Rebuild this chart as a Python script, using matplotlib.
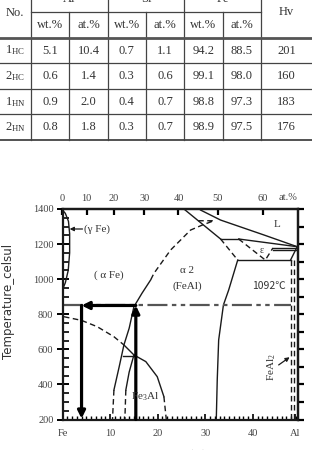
import matplotlib.pyplot as plt
import numpy as np

plt.rcParams['font.family'] = ['Liberation Serif', 'DejaVu Serif']
plt.rcParams['mathtext.default'] = 'regular'

# ---- table data ----
elements = ['Al', 'Si', 'Fe']
sub_heads = ['wt.%', 'at.%']
sample_no = ['1', '2', '1', '2']
sample_sub = ['HC', 'HC', 'HN', 'HN']
al_wt = ['5.1', '0.6', '0.9', '0.8']
al_at = ['10.4', '1.4', '2.0', '1.8']
si_wt = ['0.7', '0.3', '0.4', '0.3']
si_at = ['1.1', '0.6', '0.7', '0.7']
fe_wt = ['94.2', '99.1', '98.8', '98.9']
fe_at = ['88.5', '98.0', '97.3', '97.5']
hv = ['201', '160', '183', '176']

# ---- phase diagram data (x = wt.% Al, y = temperature C) ----
gamma_wt = [0.0, 0.6, 1.25, 1.5, 1.5, 1.2, 0.6, 0.0]
gamma_T = [1394, 1375, 1330, 1260, 1150, 1050, 980, 940]

liq_a_wt = [25.5, 33.2]
liq_a_T = [1400, 1229]
liq_b_wt = [29.0, 33.2, 42.3, 49.3]
liq_b_T = [1394, 1337, 1252, 1185]
perit_wt = [33.2, 37.0]
perit_T = [1229, 1229]
eps_top_wt = [37.0, 49.3]
eps_top_T = [1229, 1185]
eps_dash_wt = [37.0, 42.6, 44.2]
eps_dash_T = [1229, 1109, 1178]
eps_low_wt = [44.2, 49.3]
eps_low_T = [1178, 1178]
eps_low2_T = [1166, 1166]
a2_dash_wt = [33.2, 36.8]
a2_dash_T = [1229, 1109]
eut_wt = [36.8, 47.9]
eut_T = [1109, 1109]
right_wt = [47.9, 49.3]
right_T = [1109, 1185]
feal2_wt = [47.9, 48.7]
feal2_T = [1109, 200]
a2_right_wt = [36.8, 34.9, 33.8, 32.8, 32.5, 32.3]
a2_right_T = [1109, 938, 853, 653, 425, 200]

order_dash_wt = [28.5, 31.8, 29.5, 26.9, 22.7, 19.2, 18.5]
order_dash_T = [1333, 1333, 1310, 1280, 1166, 1033, 995]
order_wt = [18.5, 16.7, 15.0, 14.0, 12.9, 11.9, 10.8]
order_T = [995, 920, 843, 720, 625, 500, 368]
order_low_wt = [10.8, 10.5]
order_low_T = [368, 200]
fe3al_left_wt = [15.0, 14.0, 13.3]
fe3al_left_T = [568, 470, 368]
fe3al_left_low_wt = [13.3, 13.1]
fe3al_left_low_T = [368, 200]
tri_wt = [12.9, 15.0]
tri_T = [625, 568]
tri_h_wt = [12.8, 15.0]
tri_h_T = [562, 562]
dome_wt = [15.0, 17.5, 19.9, 21.3]
dome_T = [568, 530, 444, 330]
dome_low_wt = [21.3, 21.8]
dome_low_T = [330, 200]
curie_wt = [0.3, 4.0, 7.3, 10.8, 12.9]
curie_T = [786, 765, 729, 672, 625]

iso_wt = [0, 47.9]
iso_T = [850, 850]
path_wt = [15.4, 15.4, 4.0, 4.0]
path_T = [200, 850, 850, 205]

y_ticks = [200, 400, 600, 800, 1000, 1200, 1400]
x_ticks = [0, 10, 20, 30, 40, 48.8]
x_labels = ['Fe', '10', '20', '30', '40', 'Al']
at_ticks = [0, 10, 20, 30, 40, 50, 60]

fig = plt.figure(figsize=(3.12, 4.5), dpi=100)

# ---- table ----
tax = fig.add_axes([0, 0, 1, 1])
tax.set_xlim(0, 312)
tax.set_ylim(450, 0)
tax.axis('off')

col_x = [0, 30.7, 69.3, 107.7, 145.7, 184.3, 222.7, 261, 312]
row_y = [37.7, 63.3, 89, 114.3, 140]
lc = '#444444'
tc = '#333333'
fs = 9

for x in [30.7, 107.7, 184.3, 261]:
    tax.plot([x, x], [-5, 140], color=lc, lw=0.9)
for x in [69.3, 145.7, 222.7]:
    tax.plot([x, x], [12, 140], color=lc, lw=0.9)
tax.plot([30.7, 261], [12, 12], color=lc, lw=0.9)
tax.plot([0, 312], [37.7, 37.7], color='#555555', lw=2.0)
for y in row_y[1:-1]:
    tax.plot([0, 312], [y, y], color=lc, lw=0.9)
tax.plot([0, 312], [140, 140], color=lc, lw=1.3)

for i, el in enumerate(elements):
    xc = (col_x[1 + 2 * i] + col_x[3 + 2 * i]) / 2
    tax.text(xc, -1.5, el, ha='center', va='center', fontsize=fs, color=tc)
    for j, sh in enumerate(sub_heads):
        xs = (col_x[1 + 2 * i + j] + col_x[2 + 2 * i + j]) / 2
        tax.text(xs, 25, sh, ha='center', va='center', fontsize=fs, color=tc)
tax.text(15, 13, 'No.', ha='center', va='center', fontsize=fs, color=tc)
tax.text(286.5, 12, 'Hv', ha='center', va='center', fontsize=fs, color=tc)

columns = [al_wt, al_at, si_wt, si_at, fe_wt, fe_at]
for r in range(4):
    yc = (row_y[r] + row_y[r + 1]) / 2
    tax.text(15, yc, r'$%s_{%s}$' % (sample_no[r], sample_sub[r]),
             ha='center', va='center', fontsize=fs, color=tc)
    for c, col in enumerate(columns):
        xc = (col_x[1 + c] + col_x[2 + c]) / 2
        tax.text(xc, yc, col[r], ha='center', va='center', fontsize=fs, color=tc)
    tax.text(286.5, yc, hv[r], ha='center', va='center', fontsize=fs, color=tc)

# ---- phase diagram ----
ax = fig.add_axes([62.5 / 312, 30.5 / 450, 235.2 / 312, 210.5 / 450])
ax.set_xlim(0, 49.4)
ax.set_ylim(200, 1400)

k = '#1a1a1a'
lw = 1.0
dash = (0, (4, 2.5))

def solid(x, y):
    ax.plot(x, y, color=k, lw=lw)

def dashed(x, y):
    ax.plot(x, y, color=k, lw=lw, linestyle=dash)

solid(gamma_wt, gamma_T)
solid(liq_a_wt, liq_a_T)
solid(liq_b_wt, liq_b_T)
solid(perit_wt, perit_T)
solid(eps_top_wt, eps_top_T)
dashed(eps_dash_wt, eps_dash_T)
solid(eps_low_wt, eps_low_T)
solid(eps_low_wt, eps_low2_T)
dashed(a2_dash_wt, a2_dash_T)
solid(eut_wt, eut_T)
solid(right_wt, right_T)
for xv in feal2_wt:
    dashed([xv, xv], feal2_T)
solid(a2_right_wt, a2_right_T)
dashed(order_dash_wt, order_dash_T)
solid(order_wt, order_T)
dashed(order_low_wt, order_low_T)
solid(fe3al_left_wt, fe3al_left_T)
dashed(fe3al_left_low_wt, fe3al_left_low_T)
solid(tri_wt, tri_T)
solid(tri_h_wt, tri_h_T)
solid(dome_wt, dome_T)
dashed(dome_low_wt, dome_low_T)
dashed(curie_wt, curie_T)

ax.plot(iso_wt, iso_T, color='#555555', lw=1.6,
        linestyle=(0, (9, 2, 2, 2, 2, 2)))

for i in range(3):
    ax.annotate('', xy=(path_wt[i + 1], path_T[i + 1]),
                xytext=(path_wt[i], path_T[i]),
                arrowprops=dict(arrowstyle='-|>', lw=2.3, color='black',
                                mutation_scale=11, shrinkA=0, shrinkB=0))

txt = dict(fontsize=8, color='#333333', ha='center', va='center')
ax.text(7.2, 1283, '(\u03b3 Fe)', **txt)
ax.annotate('', xy=(1.5, 1286), xytext=(4.2, 1286),
            arrowprops=dict(arrowstyle='-|>', lw=0.9, color=k,
                            mutation_scale=6, shrinkA=0, shrinkB=0))
ax.text(9.7, 1024, '( \u03b1 Fe)', **txt)
ax.text(26.2, 1052, '\u03b1 2', **txt)
ax.text(26.2, 961, '(FeAl)', **txt)
ax.text(43.3, 961, '1092\u2103', family=['Noto Sans CJK SC', 'DejaVu Sans'],
        fontsize=7.5, color='#333333', ha='center', va='center')
ax.text(45.1, 1309, 'L', **txt)
ax.text(41.9, 1163, '\u03b5', fontsize=7, color='#333333', ha='center', va='center')
ax.text(17.3, 330, r'$Fe_3Al$', **txt)
ax.text(44.0, 501, r'$FeAl_2$', rotation=90, **txt)
ax.annotate('', xy=(47.7, 555), xytext=(45.4, 511),
            arrowprops=dict(arrowstyle='-|>', lw=0.9, color=k,
                            mutation_scale=6, shrinkA=0, shrinkB=0))

for s in ax.spines.values():
    s.set_linewidth(1.6)
    s.set_color(k)

ax.set_xticks(x_ticks)
ax.set_xticklabels(x_labels)
ax.set_xticks(np.arange(0, 50, 1), minor=True)
ax.tick_params(axis='x', which='major', direction='in', length=4, width=1.2,
               pad=7, labelsize=7.5, labelcolor='#444444')
ax.tick_params(axis='x', which='minor', direction='in', length=3, width=1.0)
ax.set_yticks(y_ticks)
ax.set_yticks(np.arange(200, 1401, 50), minor=True)
ax.tick_params(axis='y', which='major', direction='inout', length=9, width=1.4,
               pad=2, labelsize=7.5, labelcolor='#444444')
ax.tick_params(axis='y', which='minor', direction='in', length=4, width=1.2)

ry = ax.secondary_yaxis('right')
ry.set_yticks(np.arange(200, 1401, 100))
ry.set_yticklabels([])
ry.tick_params(direction='out', length=4, width=1.6)
ry.spines['right'].set_linewidth(1.6)


def wt_to_at(w):
    w = np.asarray(w, dtype=float)
    a = w / 26.98
    f = (100 - w) / 55.85
    return 100 * a / (a + f)


def at_to_wt(a):
    a = np.asarray(a, dtype=float)
    return 100 * a * 26.98 / (a * 26.98 + (100 - a) * 55.85)


tx = ax.secondary_xaxis('top', functions=(wt_to_at, at_to_wt))
tx.set_xticks(at_ticks)
tx.tick_params(direction='in', length=4, width=1.6, pad=4,
               labelsize=7.5, labelcolor='#444444')
tx.spines['top'].set_linewidth(1.6)
ax.text(1.0, 1.035, 'at.%', transform=ax.transAxes, fontsize=7.5,
        color='#444444', ha='right', va='bottom')

ax.set_ylabel('Temperature_celsul', family='DejaVu Sans', fontsize=8.5,
              color='#333333')
ax.yaxis.set_label_coords(-0.2, 0.563)
ax.set_xlabel('Weight (%)', fontsize=8, color='#333333')
ax.xaxis.set_label_coords(0.5, -0.14)

fig.savefig('out.png', dpi=100)
